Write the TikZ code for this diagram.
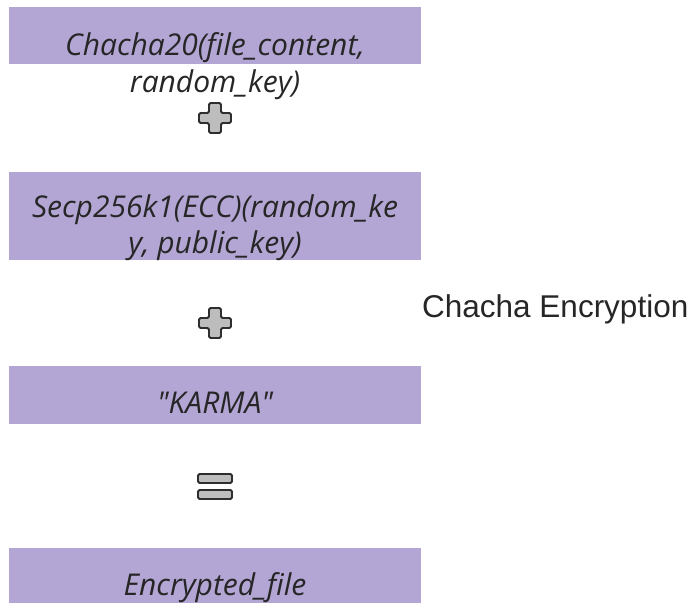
\documentclass[tikz,border=0pt]{standalone}
\usepackage{fontspec}
\setmainfont{Liberation Sans}
\newfontfamily\boxfont{Open Sans}
\definecolor{boxfill}{HTML}{B3A6D4}
\definecolor{txt}{HTML}{262626}
\definecolor{iconfill}{HTML}{BDBDBD}
\definecolor{iconline}{HTML}{2E2E2E}
\begin{document}
\begin{tikzpicture}[x=1pt,y=-1pt,
  stepbox/.style={fill=boxfill,draw=none},
  boxtext/.style={anchor=base,inner sep=0pt,text=txt,font=\boxfont\itshape\fontsize{30}{36}\selectfont},
  icon/.style={fill=iconfill,draw=iconline,line width=1.8pt,rounded corners=1.5pt},
  label/.style={anchor=base west,inner sep=0pt,text=txt,font=\fontsize{31.5}{38}\selectfont}]
\useasboundingbox (0,0) rectangle (693,603);
% boxes
\fill[stepbox] (9,7) rectangle (421,64);
\fill[stepbox] (9,172) rectangle (421,260);
\fill[stepbox] (9,366) rectangle (421,424);
\fill[stepbox] (9,548) rectangle (421,603);
% texts
\node[boxtext] (t1a) at (215,55) {Chacha20(file\_content,};
\node[boxtext] (t1b) at (215,92) {random\_key)};
\node[boxtext] (t2a) at (215,217) {Secp256k1(ECC)(random\_ke};
\node[boxtext] (t2b) at (215,253) {y, public\_key)};
\node[boxtext] (t3) at (215,413) {"KARMA"};
\node[boxtext] (t4) at (215,595) {Encrypted\_file};
% plus icons
\foreach \cy in {118,323}{
  \draw[icon] (209,\cy-15) -- (221,\cy-15) -- (221,\cy-5) -- (231,\cy-5) -- (231,\cy+5)
    -- (221,\cy+5) -- (221,\cy+15) -- (209,\cy+15) -- (209,\cy+5) -- (199,\cy+5)
    -- (199,\cy-5) -- (209,\cy-5) -- cycle;
}
% equals icon
\draw[icon] (198,474) rectangle (232,483);
\draw[icon] (198,490) rectangle (232,499);
% label
\node[label] (lab) at (422,317) {Chacha Encryption};
\end{tikzpicture}
\end{document}
